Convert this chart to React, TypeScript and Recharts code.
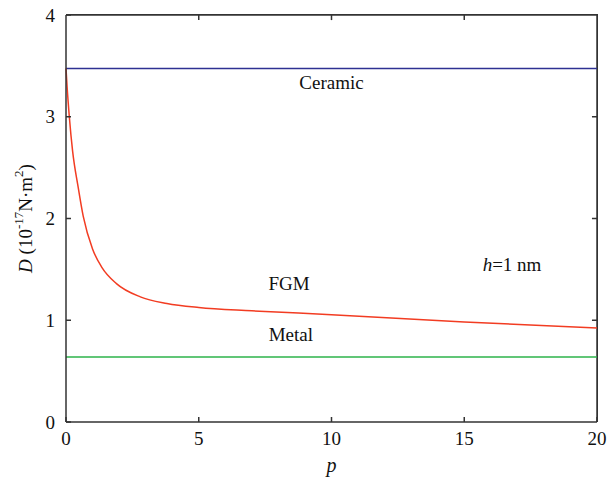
import { LineChart, Line, XAxis, YAxis, CartesianGrid, ReferenceLine, ReferenceDot } from 'recharts';

// p (gradient index) and bending rigidity D (x10^-17 N·m²)
const pValues = [0, 0.04, 0.125, 0.25, 0.45, 0.65, 1, 1.35, 1.9, 2.8, 3.8, 5, 7, 10, 15, 20];
const fgmValues = [3.475, 3.3, 3.0, 2.66, 2.32, 2.02, 1.7, 1.52, 1.36, 1.23, 1.165, 1.125, 1.093, 1.055, 0.983, 0.924];
const ceramicD = 3.475;
const metalD = 0.64;

const xTicks = [0, 5, 10, 15, 20];
const yTicks = [0, 1, 2, 3, 4];
const xMax = 20;
const yMax = 4;

const labelNames = ['Ceramic', 'FGM', 'Metal', 'h=1 nm'];
const labelP = [10, 8.4, 8.47, 16.8];
const labelD = [3.34, 1.36, 0.86, 1.55];

const data = pValues.map((p, i) => ({ p, fgm: fgmValues[i] }));

const FONT = '"Liberation Serif", "DejaVu Serif", serif';
const AXIS = '#333';

// inward tick length in data units (about 5px)
const topTickLen = 0.05;
const rightTickLen = 0.19;

const annoText = (name: string) => (props: any) => {
    const { x, y } = props.viewBox;
    if (name.startsWith('h=')) {
        return (
            <text x={x} y={y} textAnchor="middle" dominantBaseline="central" fontFamily={FONT} fontSize={19} fill="#111">
                <tspan fontStyle="italic">h</tspan>
                <tspan>{name.slice(1)}</tspan>
            </text>
        );
    }
    return (
        <text x={x} y={y} textAnchor="middle" dominantBaseline="central" fontFamily={FONT} fontSize={19} fill="#111">
            {name}
        </text>
    );
};

const YLabel = (props: any) => {
    const { x, y, height } = props.viewBox;
    const cx = x + 25;
    const cy = y + height / 2;
    return (
        <text
            x={cx}
            y={cy}
            transform={`rotate(-90 ${cx} ${cy})`}
            textAnchor="middle"
            dominantBaseline="central"
            fontFamily={FONT}
            fontSize={19}
            fill="#111"
        >
            <tspan fontStyle="italic">D</tspan>
            <tspan> (10</tspan>
            <tspan dy={-7} fontSize={13}>-17</tspan>
            <tspan dy={7}>N·m</tspan>
            <tspan dy={-7} fontSize={13}>2</tspan>
            <tspan dy={7}>)</tspan>
        </text>
    );
};

const XLabel = (props: any) => {
    const { x, y, width } = props.viewBox;
    return (
        <text x={x + width / 2} y={y + 50} textAnchor="middle" fontFamily={FONT} fontStyle="italic" fontSize={20} fill="#111">
            p
        </text>
    );
};

export default function App() {
    return (
        <div style={{ position: 'absolute', left: 0, top: 0, width: 608, height: 487, background: '#fff' }}>
            <LineChart width={608} height={487} data={data} margin={{ top: 15, right: 11, bottom: 0, left: 0 }}>
                {/* top and right edges of the frame */}
                <CartesianGrid
                    horizontalValues={[yMax]}
                    verticalValues={[xMax]}
                    stroke={AXIS}
                    strokeWidth={1.5}
                    strokeOpacity={1}
                />
                <XAxis
                    dataKey="p"
                    type="number"
                    domain={[0, xMax]}
                    ticks={xTicks}
                    height={65}
                    tickSize={-5}
                    tickMargin={15}
                    stroke={AXIS}
                    strokeWidth={1.5}
                    tick={{ fill: '#111', fontSize: 19, fontFamily: FONT }}
                    label={<XLabel />}
                />
                <YAxis
                    type="number"
                    domain={[0, yMax]}
                    ticks={yTicks}
                    width={66}
                    tickSize={-5}
                    tickMargin={16}
                    stroke={AXIS}
                    strokeWidth={1.5}
                    tick={{ fill: '#111', fontSize: 19, fontFamily: FONT }}
                    label={<YLabel />}
                />
                {xTicks.slice(1, -1).map((t) => (
                    <ReferenceLine
                        key={`tx${t}`}
                        segment={[{ x: t, y: yMax }, { x: t, y: yMax - topTickLen }]}
                        stroke={AXIS}
                        strokeWidth={1.5}
                        ifOverflow="visible"
                    />
                ))}
                {yTicks.slice(1, -1).map((t) => (
                    <ReferenceLine
                        key={`ty${t}`}
                        segment={[{ x: xMax, y: t }, { x: xMax - rightTickLen, y: t }]}
                        stroke={AXIS}
                        strokeWidth={1.5}
                        ifOverflow="visible"
                    />
                ))}
                <ReferenceLine y={ceramicD} stroke="#2e3192" strokeWidth={1.5} />
                <ReferenceLine y={metalD} stroke="#2db34a" strokeWidth={1.5} />
                <Line
                    dataKey="fgm"
                    type="monotone"
                    stroke="#f23c22"
                    strokeWidth={1.5}
                    dot={false}
                    isAnimationActive={false}
                />
                {labelNames.map((name, i) => (
                    <ReferenceDot
                        key={name}
                        x={labelP[i]}
                        y={labelD[i]}
                        r={0}
                        stroke="none"
                        fill="none"
                        label={annoText(name)}
                    />
                ))}
            </LineChart>
            {/* top and right edges of the plot frame */}
            <div
                style={{
                    position: 'absolute',
                    left: 66,
                    top: 14.25,
                    width: 531.75,
                    height: 407.5,
                    boxSizing: 'border-box',
                    borderTop: `1.5px solid ${AXIS}`,
                    borderRight: `1.5px solid ${AXIS}`,
                    pointerEvents: 'none',
                }}
            />
        </div>
    );
}
